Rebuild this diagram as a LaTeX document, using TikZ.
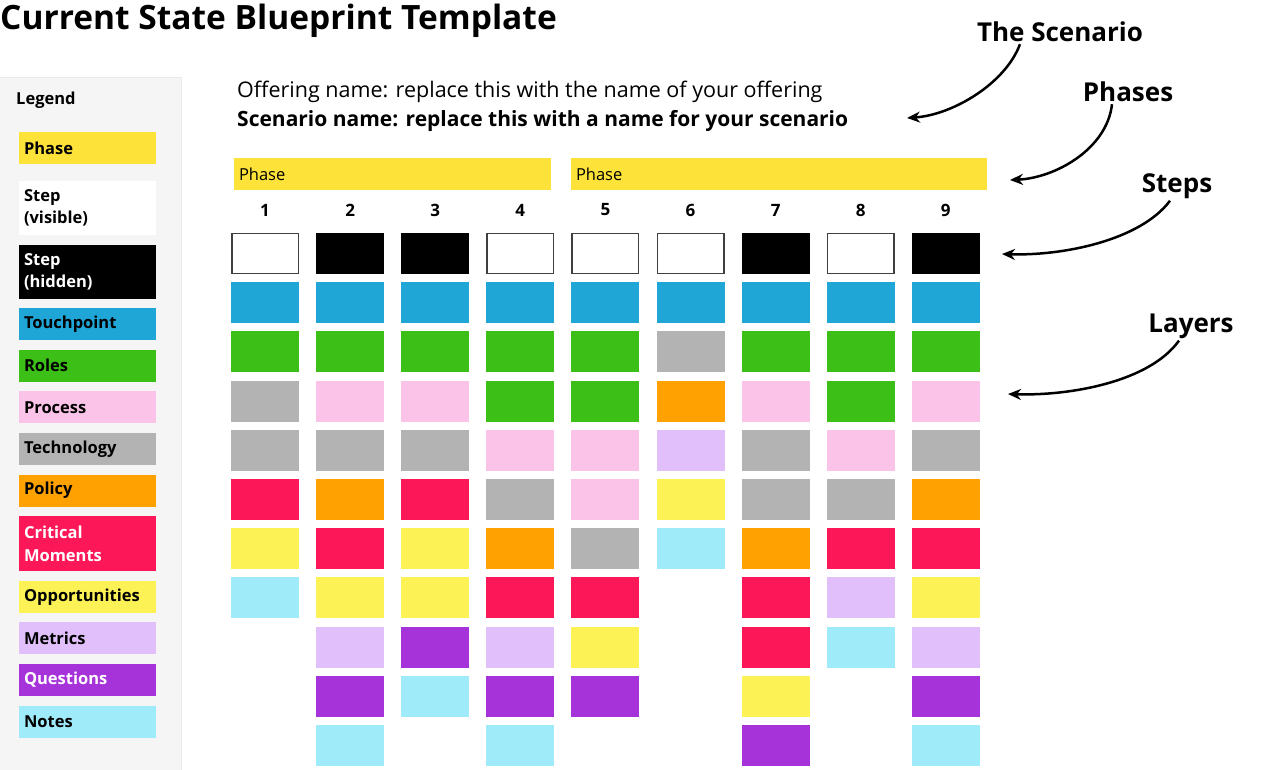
\documentclass[tikz,border=0pt]{standalone}
\usepackage{fontspec}
\setmainfont{Open Sans}
\usetikzlibrary{positioning,arrows.meta}
\definecolor{phaseclr}{HTML}{FDE23A}
\definecolor{touchclr}{HTML}{1FA5D6}
\definecolor{roleclr}{HTML}{3CBF16}
\definecolor{procclr}{HTML}{FBC3E8}
\definecolor{techclr}{HTML}{B3B3B3}
\definecolor{policyclr}{HTML}{FFA100}
\definecolor{critclr}{HTML}{FC1758}
\definecolor{oppclr}{HTML}{FCF255}
\definecolor{metricclr}{HTML}{E0BFFA}
\definecolor{questclr}{HTML}{A633DA}
\definecolor{noteclr}{HTML}{9FEBFA}
\definecolor{panelclr}{HTML}{F5F5F5}
\tikzset{ %
  ,>={Stealth[length=13pt,width=11pt]}
  ,cell/.style={inner sep=0, outer sep=0, minimum width=68pt, minimum height=41pt}
  ,cell-S/.style={cell, draw=black!75, line width=1.5pt, fill=white, minimum width=66.5pt, minimum height=39.5pt}
  ,cell-H/.style={cell, fill=black}
  ,cell-T/.style={cell, fill=touchclr}
  ,cell-R/.style={cell, fill=roleclr}
  ,cell-P/.style={cell, fill=procclr}
  ,cell-G/.style={cell, fill=techclr}
  ,cell-O/.style={cell, fill=policyclr}
  ,cell-C/.style={cell, fill=critclr}
  ,cell-Y/.style={cell, fill=oppclr}
  ,cell-M/.style={cell, fill=metricclr}
  ,cell-Q/.style={cell, fill=questclr}
  ,cell-N/.style={cell, fill=noteclr}
  ,legitem/.style={inner xsep=5pt, inner ysep=0, outer sep=0, text width=127pt, align=left, minimum height=32pt, node distance=9.6pt, font=\fontsize{16.5}{22.5}\bfseries\selectfont}
  ,phasebar/.style={fill=phaseclr, inner xsep=5pt, inner ysep=0, outer sep=0, minimum height=32pt, anchor=west, font=\fontsize{16.5}{20}\selectfont}
  ,stepnum/.style={inner sep=0, font=\fontsize{17}{20}\bfseries\selectfont}
  ,callout/.style={inner sep=2pt, font=\fontsize{26}{30}\bfseries\selectfont}
  ,pointer/.style={->, line width=2.5pt}
}
\begin{document}
\begin{tikzpicture}[x=1pt, y=-1pt]
  \useasboundingbox (0,0) rectangle (1264,770);
  % title and scenario
  \node[anchor=west, inner sep=0, font=\fontsize{33.5}{38}\bfseries\selectfont] (title) at (0,21) {Current State Blueprint Template};
  \node[anchor=west, inner sep=0, font=\fontsize{21.5}{24}\selectfont] (offer) at (237,92) {Offering name: replace this with the name of your offering};
  \node[anchor=west, inner sep=0, font=\fontsize{21}{24}\bfseries\selectfont] (scenario) at (237,121) {Scenario name: replace this with a name for your scenario};
  % legend
  \fill[panelclr] (0,77) rectangle (181,772);
  \draw[black!8] (181,77) -- (181,772) (0,77) -- (181,77);
  \node[anchor=west, inner sep=0, font=\fontsize{16.5}{20}\bfseries\selectfont] (legend) at (16,100) {Legend};
  \node[legitem, fill=phaseclr] (lgphase) at (87.5,148) {Phase};
  \node[legitem, fill=white, minimum height=54pt, below=17pt of lgphase] (lgvis) {Step\\(visible)};
  \node[legitem, fill=black, text=white, minimum height=54pt, below=of lgvis] (lghid) {Step\\(hidden)};
  \node[legitem, fill=touchclr, below=of lghid] (lgtouch) {Touchpoint};
  \node[legitem, fill=roleclr, below=of lgtouch] (lgrole) {Roles};
  \node[legitem, fill=procclr, below=of lgrole] (lgproc) {Process};
  \node[legitem, fill=techclr, below=of lgproc] (lgtech) {Technology};
  \node[legitem, fill=policyclr, below=of lgtech] (lgpolicy) {Policy};
  \node[legitem, fill=critclr, text=white, minimum height=55pt, below=of lgpolicy] (lgcrit) {Critical\\Moments};
  \node[legitem, fill=oppclr, below=of lgcrit] (lgopp) {Opportunities};
  \node[legitem, fill=metricclr, below=of lgopp] (lgmetric) {Metrics};
  \node[legitem, fill=questclr, text=white, below=of lgmetric] (lgquest) {Questions};
  \node[legitem, fill=noteclr, below=of lgquest] (lgnote) {Notes};
  % phases and steps
  \node[phasebar, text width=307pt] (ph1) at (234,174) {Phase};
  \node[phasebar, text width=406pt] (ph2) at (571,174) {Phase};
  \foreach \i in {1,...,9}
    \node[stepnum] (n\i) at ({265+85.1*(\i-1)},210) {\i};
  % layers, one column per step
  \foreach \i/\lst in {1/{S,T,R,G,G,C,Y,N}, 2/{H,T,R,P,G,O,C,Y,M,Q,N}, 3/{H,T,R,P,G,C,Y,Y,Q,N},
      4/{S,T,R,R,P,G,O,C,M,Q,N}, 5/{S,T,R,R,P,P,G,C,Y,Q}, 6/{S,T,G,O,M,Y,N},
      7/{H,T,R,P,G,G,O,C,C,Y,Q}, 8/{S,T,R,R,P,G,C,M,N}, 9/{H,T,R,P,G,O,C,Y,M,Q,N}}
    \foreach \k [count=\j] in \lst
      \node[cell-\k] (c\i-\j) at ({265+85.1*(\i-1)},{253.5+49.2*(\j-1)}) {};
  % callouts
  \node[callout] (tscen) at (1060,32) {The Scenario};
  \node[callout] (tphase) at (1128,92) {Phases};
  \node[callout] (tstep) at (1177,186) {Steps};
  \node[callout] (tlayer) at (1191,326) {Layers};
  \coordinate (escen) at (907,118);
  \coordinate (ephase) at (1010,180);
  \coordinate (estep) at (1002,254);
  \coordinate (elayer) at (1008,394);
  \draw[pointer] ([xshift=-40pt]tscen.south) .. controls +(-15,40) and +(45,-3) .. (escen);
  \draw[pointer] ([xshift=-16pt]tphase.south) .. controls +(-5,45) and +(45,-2) .. (ephase);
  \draw[pointer] ([xshift=-7pt]tstep.south) .. controls +(-30,40) and +(60,2) .. (estep);
  \draw[pointer] ([xshift=-12pt]tlayer.south) .. controls +(-30,42) and +(60,2) .. (elayer);
\end{tikzpicture}
\end{document}
